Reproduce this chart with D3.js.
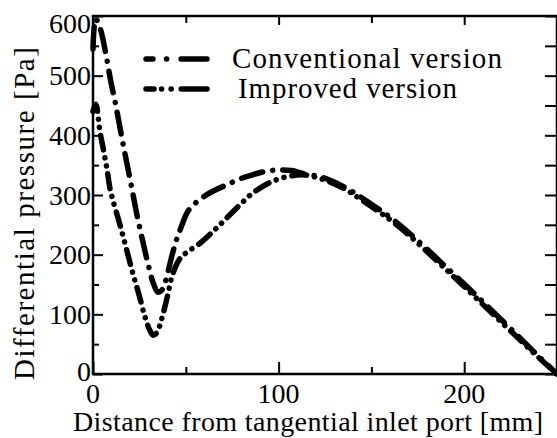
<!DOCTYPE html>
<html><head><meta charset="utf-8">
<script src="https://cdn.jsdelivr.net/npm/d3@7/dist/d3.min.js"></script>
</head><body style="margin:0">
<svg id="chart" width="557" height="438"></svg>
<script>
// ---- data ----
const seriesNames = ["Conventional version", "Improved version"];
const convX = [0, 1.5, 4, 7, 9.5, 12, 15, 18, 21, 24, 27, 30, 32.5, 35, 37, 39, 42.5, 45, 47, 51, 55, 60, 67, 72, 80, 85, 92, 100, 107, 113, 123, 135, 146, 164, 191, 221, 240, 250];
const convY = [545, 595, 578, 535, 492, 455, 405, 357, 310, 262, 220, 180, 152, 137, 140, 155, 198, 225, 242, 272, 286, 298, 310, 317, 328, 333, 339, 342, 341, 336, 330, 314, 293, 253, 177, 88, 30, 0];
const impX = [0, 1.5, 3.8, 5.5, 7.6, 9.2, 11, 14, 17.3, 21, 24.5, 28, 30.5, 32.5, 34.5, 37, 40, 43, 47, 51, 58, 65, 70, 78, 86, 96, 105, 113, 123, 135, 146, 164, 191, 221, 240, 250];
const impY = [440, 452, 405, 378, 342, 310, 288, 256, 218, 174, 136, 96, 74, 65, 70, 92, 129, 168, 194, 205, 220, 240, 255, 280, 303, 322, 331, 334, 327, 311, 289, 249, 173, 84, 28, 0];
const xMajor = [0, 100, 200];
const xMinor = [50, 150, 250];
const yMajor = [0, 100, 200, 300, 400, 500, 600];
const yMinor = [50, 150, 250, 350, 450, 550];
const xTitle = "Distance from tangential inlet port [mm]";
const yTitle = "Differential pressure [Pa]";

// ---- layout ----
const L = 93, R = 557, T = 16, B = 374;
const svg = d3.select("#chart");
const x = d3.scaleLinear().domain([0, 250]).range([L, R]);
const y = d3.scaleLinear().domain([0, 600]).range([B, T]);

const axW = 2.5, major = 10, minor = 6;

function serif(sel, size){
  sel.style("font-family", "'Liberation Serif'").style("font-size", size + "px");
}
function fitWidth(sel, target){
  const node = sel.node();
  const w = node.getComputedTextLength();
  const n = node.textContent.length;
  sel.style("letter-spacing", ((target - w) / (n - 1)).toFixed(2) + "px");
}

function axisTicks(g){
  g.selectAll(".domain").remove();
  g.selectAll(".tick line").attr("stroke", "#000").attr("stroke-width", 2);
}

// tick marks (no labels from the axis generator)
svg.append("g").attr("transform", `translate(${L},0)`)
  .call(d3.axisLeft(y).tickValues(yMajor).tickSize(-major).tickFormat("")).call(axisTicks);
svg.append("g").attr("transform", `translate(${L},0)`)
  .call(d3.axisLeft(y).tickValues(yMinor).tickSize(-minor).tickFormat("")).call(axisTicks);
svg.append("g").attr("transform", `translate(${R},0)`)
  .call(d3.axisRight(y).tickValues(yMajor.concat(yMinor)).tickSize(-12).tickFormat("")).call(axisTicks);
svg.append("g").attr("transform", `translate(0,${B})`)
  .call(d3.axisBottom(x).tickValues(xMajor).tickSize(-major - 2).tickFormat("")).call(axisTicks);
svg.append("g").attr("transform", `translate(0,${B})`)
  .call(d3.axisBottom(x).tickValues(xMinor).tickSize(-minor - 1).tickFormat("")).call(axisTicks);
svg.append("g").attr("transform", `translate(0,${T})`)
  .call(d3.axisTop(x).tickValues(xMajor).tickSize(-major + 1).tickFormat("")).call(axisTicks);
svg.append("g").attr("transform", `translate(0,${T})`)
  .call(d3.axisTop(x).tickValues(xMinor).tickSize(-minor - 1).tickFormat("")).call(axisTicks);

// tick labels
yMajor.forEach(v => {
  const t = svg.append("text").attr("x", L - 2).attr("y", y(v))
    .attr("text-anchor", "end").attr("dy", v === 600 ? "0.6em" : (v === 0 ? "0.25em" : "0.35em"))
    .text(d3.format("d")(v));
  serif(t, 28);
});
xMajor.forEach(v => {
  const t = svg.append("text").attr("x", x(v)).attr("y", B + 2)
    .attr("text-anchor", "middle").attr("dy", "0.95em").text(d3.format("d")(v));
  serif(t, 28);
});

// frame
const frame = svg.append("g").attr("stroke", "#000").attr("stroke-width", axW).attr("fill", "none");
frame.append("line").attr("x1", x(0)).attr("x2", x(0)).attr("y1", y(600) - 1).attr("y2", y(0) + 1);
frame.append("line").attr("x1", x(0) - 1).attr("x2", x(250) + 1).attr("y1", y(0)).attr("y2", y(0));
frame.append("line").attr("x1", x(0) - 1).attr("x2", x(250) + 1).attr("y1", y(600)).attr("y2", y(600));
frame.append("line").attr("x1", x(250)).attr("x2", x(250)).attr("y1", y(600)).attr("y2", y(0));

// curves
const line = d3.line().x(d => x(d[0])).y(d => y(d[1])).curve(d3.curveCatmullRom.alpha(0.5));
const conv = convX.map((v, i) => [v, convY[i]]);
const imp = impX.map((v, i) => [v, impY[i]]);
const dashes = ["22 10 0.1 10", "15 8 0.1 8 0.1 8"];
const legendDashes = ["7 13.5 0.1 14.5 40", "8 7.5 0.1 9.5 0.1 10 40"];
[conv, imp].forEach((data, i) => {
  svg.append("path").datum(data).attr("d", line)
    .attr("fill", "none").attr("stroke", "#000").attr("stroke-width", 5.5)
    .attr("stroke-linecap", "round").attr("stroke-linejoin", "round")
    .attr("stroke-dasharray", dashes[i]);
});

// legend
const legY = [59, 89];
const legTextX = [232, 238];
const legTextY = [68, 98];
const legTextLen = [270, 219];
seriesNames.forEach((name, i) => {
  svg.append("line").attr("x1", 146).attr("x2", 207).attr("y1", legY[i]).attr("y2", legY[i])
    .attr("stroke", "#000").attr("stroke-width", 5.5).attr("stroke-linecap", "round")
    .attr("stroke-dasharray", legendDashes[i]);
  const t = svg.append("text").attr("x", legTextX[i]).attr("y", legTextY[i]).text(name);
  serif(t, 29);
  fitWidth(t, legTextLen[i]);
});

// axis titles
const xt = svg.append("text").attr("x", 73).attr("y", 431).text(xTitle);
serif(xt, 28); fitWidth(xt, 470);
const yt = svg.append("text").attr("transform", "translate(34,380) rotate(-90)").text(yTitle);
serif(yt, 29); fitWidth(yt, 333);
</script>
</body></html>
